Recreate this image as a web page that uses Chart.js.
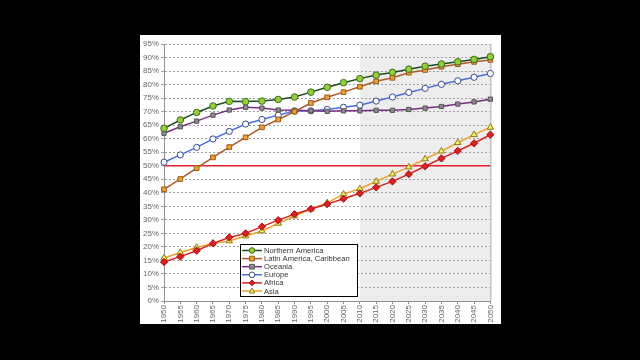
<!DOCTYPE html>
<html>
<head>
<meta charset="utf-8">
<script src="https://cdn.jsdelivr.net/npm/chart.js@4.4.0/dist/chart.umd.min.js"></script>
<style>
  html, body { margin: 0; padding: 0; background: #000; width: 640px; height: 360px; overflow: hidden; }
  #panel { position: absolute; left: 140px; top: 35px; width: 361px; height: 289px; background: #fff; }
  canvas { display: block; }
</style>
</head>
<body>
<div id="panel"><canvas id="c" width="361" height="289"></canvas></div>
<script>
const years = ['1950','1955','1960','1965','1970','1975','1980','1985','1990','1995','2000','2005','2010','2015','2020','2025','2030','2035','2040','2045','2050'];
const northernAmerica = [63.8,66.9,69.7,72.1,73.8,73.7,73.9,74.5,75.4,77.2,79.0,80.7,82.2,83.5,84.5,85.7,86.8,87.6,88.4,89.3,90.3];
const latinAmerica = [41.3,45.1,49.1,53.1,56.9,60.5,64.2,67.1,70.0,73.2,75.3,77.2,79.2,81.2,82.5,84.4,85.4,86.6,87.5,88.4,89.1];
const oceania = [62.0,64.4,66.5,68.7,70.6,71.6,71.3,70.6,70.5,70.3,70.1,70.3,70.3,70.5,70.5,70.8,71.3,71.9,72.8,73.6,74.6];
const europe = [51.3,54.0,56.8,59.9,62.7,65.4,67.1,68.7,70.2,70.3,70.8,71.6,72.4,73.9,75.4,77.1,78.6,80.1,81.4,82.7,84.1];
const africa = [14.4,16.4,18.6,21.3,23.5,25.0,27.5,29.9,32.1,34.0,35.8,37.8,39.8,42.0,44.2,46.9,49.8,52.7,55.5,58.3,61.5];
const asia = [15.9,17.9,19.8,21.3,22.2,24.0,25.9,28.7,31.4,34.0,36.3,39.5,41.5,44.2,46.9,49.5,52.5,55.4,58.5,61.5,64.2];
const yTicks = [0,5,10,15,20,25,30,35,40,45,50,55,60,65,70,75,80,85,90,95];
const projectionStart = '2010';
const referenceLevel = 50;

function ds(label, data, line, fill, border, style, radius) {
  return { label, data, borderColor: line, backgroundColor: fill, pointBackgroundColor: fill,
    pointBorderColor: border, pointBorderWidth: 1, pointStyle: style, pointRadius: radius,
    borderWidth: 1.5, tension: 0, fill: false };
}

const datasets = [
  ds('Northern America', northernAmerica, '#1e4a1e', '#92cf3a', '#3f6a1e', 'circle', 3.3),
  ds('Latin America, Caribbean', latinAmerica, '#a85a28', '#f0a030', '#9a5a20', 'rect', 3.3),
  ds('Oceania', oceania, '#7a2a86', '#8c8c8c', '#555555', 'rect', 3.0),
  ds('Europe', europe, '#4a6ee0', '#ffffff', '#3a4a8a', 'circle', 3.1),
  ds('Africa', africa, '#d82020', '#e02020', '#a01010', 'rectRot', 3.6),
  ds('Asia', asia, '#f0a028', '#f8f060', '#8a7a20', 'triangle', 3.7)
];

function drawMarker(ctx, style, x, y, r, fill, stroke) {
  ctx.save();
  ctx.fillStyle = fill; ctx.strokeStyle = stroke; ctx.lineWidth = 1;
  ctx.beginPath();
  if (style === 'circle') { ctx.arc(x, y, r, 0, Math.PI * 2); }
  else if (style === 'rect') { ctx.rect(x - r * 0.85, y - r * 0.85, r * 1.7, r * 1.7); }
  else if (style === 'rectRot') { ctx.moveTo(x, y - r); ctx.lineTo(x + r, y); ctx.lineTo(x, y + r); ctx.lineTo(x - r, y); ctx.closePath(); }
  else if (style === 'triangle') { ctx.moveTo(x, y - r); ctx.lineTo(x + r, y + r * 0.7); ctx.lineTo(x - r, y + r * 0.7); ctx.closePath(); }
  ctx.fill(); ctx.stroke();
  ctx.restore();
}

const decor = {
  id: 'decor',
  beforeDraw(chart) {
    const { ctx, chartArea, scales } = chart;
    const x0 = scales.x.getPixelForValue(years.indexOf(projectionStart));
    ctx.save();
    ctx.fillStyle = '#ededed';
    ctx.fillRect(x0, chartArea.top, chartArea.right - x0, chartArea.bottom - chartArea.top);
    ctx.restore();
  },
  beforeDatasetsDraw(chart) {
    const { ctx, chartArea, scales } = chart;
    const y = scales.y.getPixelForValue(referenceLevel);
    ctx.save();
    ctx.strokeStyle = '#e8202a'; ctx.lineWidth = 1.6;
    ctx.beginPath(); ctx.moveTo(chartArea.left, y); ctx.lineTo(chartArea.right, y); ctx.stroke();
    ctx.strokeStyle = '#a8a8a8'; ctx.lineWidth = 1;
    ctx.beginPath(); ctx.moveTo(chartArea.right + 0.5, chartArea.top); ctx.lineTo(chartArea.right + 0.5, chartArea.bottom); ctx.stroke();
    ctx.restore();
  },
  afterDraw(chart) {
    const { ctx, chartArea } = chart;
    const bx = chartArea.left + 76, by = chartArea.bottom - 57, bw = 117, bh = 52;
    ctx.save();
    ctx.fillStyle = '#fff'; ctx.fillRect(bx, by, bw, bh);
    ctx.strokeStyle = '#000'; ctx.lineWidth = 1; ctx.strokeRect(bx + 0.5, by + 0.5, bw, bh);
    ctx.font = '7.6px "Liberation Sans", Arial, sans-serif';
    ctx.textBaseline = 'middle';
    chart.data.datasets.forEach((d, i) => {
      const y = by + 6.5 + i * 8.1;
      ctx.strokeStyle = d.borderColor; ctx.lineWidth = 1.5;
      ctx.beginPath(); ctx.moveTo(bx + 2, y); ctx.lineTo(bx + 22, y); ctx.stroke();
      drawMarker(ctx, d.pointStyle, bx + 12, y, 2.8, d.pointBackgroundColor, d.pointBorderColor);
      ctx.fillStyle = '#333';
      ctx.fillText(d.label, bx + 24, y + 0.5);
    });
    ctx.restore();
  }
};

new Chart(document.getElementById('c'), {
  type: 'line',
  data: { labels: years, datasets },
  plugins: [decor],
  options: {
    responsive: false,
    animation: false,
    layout: { padding: { top: 9, right: 10, left: 0, bottom: 0 } },
    plugins: { legend: { display: false }, tooltip: { enabled: false } },
    scales: {
      x: {
        type: 'category', offset: false,
        afterFit(s) { s.height = 23; },
        grid: { display: true, drawOnChartArea: false, color: '#909090', tickLength: 3 },
        border: { color: '#909090' },
        ticks: { autoSkip: false, maxRotation: 90, minRotation: 90, color: '#666', padding: 1,
          font: { family: '"Liberation Sans", Arial, sans-serif', size: 8 } }
      },
      y: {
        min: 0, max: 95,
        afterFit(s) { s.width = 24; },
        afterBuildTicks(s) { s.ticks = yTicks.map(v => ({ value: v })); },
        grid: { color: '#a0a0a0', lineWidth: 1, tickLength: 3, drawTicks: true },
        border: { color: '#909090', dash: [2, 2] },
        ticks: { color: '#666', padding: 2, callback: v => v + '%',
          font: { family: '"Liberation Sans", Arial, sans-serif', size: 8 } }
      }
    }
  }
});
</script>
</body>
</html>
